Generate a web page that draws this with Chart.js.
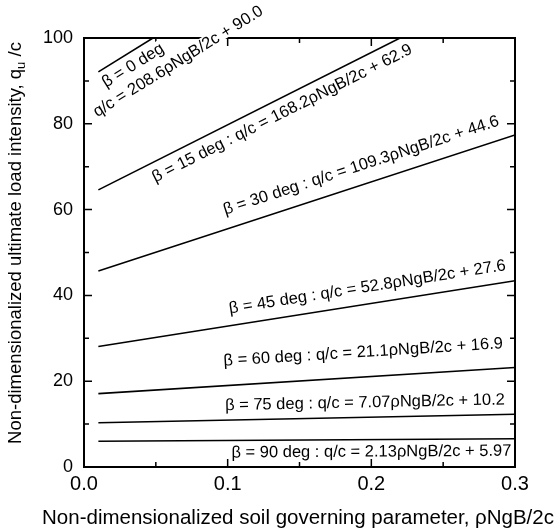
<!DOCTYPE html>
<html>
<head>
<meta charset="utf-8">
<script src="https://cdn.jsdelivr.net/npm/chart.js@4.4.0/dist/chart.umd.min.js"></script>
<style>
  html, body { margin: 0; padding: 0; background: #fff; }
  #wrap { width: 559px; height: 531px; }
</style>
</head>
<body>
<div id="wrap"><canvas id="bearing-chart" width="559" height="531"></canvas></div>
<script>
 /*-------------------
 Data
 -------------------*/
 const betaAngles = [0, 15, 30, 45, 60, 75, 90];
 const slopeText = ['208.6', '168.2', '109.3', '52.8', '21.1', '7.07', '2.13'];
 const interceptText = ['90.0', '62.9', '44.6', '27.6', '16.9', '10.2', '5.97'];
 const xStart = [0.01, 0.01, 0.01, 0.01, 0.01, 0.01, 0.01];
 const xEnd = [0.048, 0.22, 0.3, 0.3, 0.3, 0.3, 0.3];
 const qStart = [92.1, 64.6, 45.7, 28.1, 17.1, 10.3, 6.0];
 const qEnd = [100, 100, 77.4, 43.4, 23.2, 12.3, 6.6];
 const xTicks = [0.0, 0.1, 0.2, 0.3];
 const xMinorTicks = [0.05, 0.15, 0.25];
 const yTicks = [0, 20, 40, 60, 80, 100];
 const yMinorTicks = [10, 30, 50, 70, 90];

 const FONT = "'Liberation Sans', Arial, Helvetica, sans-serif";

 // where each label sits relative to the start of its line (px along / px across)
 const labelPlace = [
   [{ along: -2, perp: 17.5 }, { along: -25, perp: 38 }],
   [{ along: 54, perp: 19 }],
   [{ along: 138, perp: -14 }],
   [{ along: 135, perp: -12 }],
   [{ along: 127, perp: -20 }],
   [{ along: 127, perp: -10 }],
   [{ along: 133, perp: 17 }]
 ];

 function labelLines(i) {
   const eq = `q/c = ${slopeText[i]}\u03C1NgB/2c + ${interceptText[i]}`;
   if (i === 0) return [`\u03B2 = ${betaAngles[i]} deg`, eq];
   return [`\u03B2 = ${betaAngles[i]} deg : ${eq}`];
 }

 const datasets = betaAngles.map((b, i) => ({
   label: `beta ${b}`,
   data: [{ x: xStart[i], y: qStart[i] }, { x: xEnd[i], y: qEnd[i] }],
   showLine: true,
   borderColor: '#000',
   borderWidth: 1.6,
   pointRadius: 0,
   fill: false
 }));

 // --------- Frame, inward ticks, line labels, axis titles ---------
 const decorPlugin = {
   id: 'decor',
   afterDraw(chart) {
     const { ctx, chartArea: a, scales: { x, y } } = chart;
     ctx.save();
     ctx.strokeStyle = '#000';
     ctx.lineWidth = 2;
     ctx.strokeRect(a.left, a.top, a.right - a.left, a.bottom - a.top);

     ctx.lineWidth = 1.5;
     ctx.beginPath();
     const tickX = (vals, len) => vals.forEach(v => {
       const px = x.getPixelForValue(v);
       ctx.moveTo(px, a.bottom); ctx.lineTo(px, a.bottom - len);
       ctx.moveTo(px, a.top); ctx.lineTo(px, a.top + len);
     });
     const tickY = (vals, len) => vals.forEach(v => {
       const py = y.getPixelForValue(v);
       ctx.moveTo(a.left, py); ctx.lineTo(a.left + len, py);
       ctx.moveTo(a.right, py); ctx.lineTo(a.right - len, py);
     });
     tickX(xTicks, 8); tickX(xMinorTicks, 5);
     tickY(yTicks, 8); tickY(yMinorTicks, 5);
     ctx.stroke();

     // labels along the lines
     ctx.font = `16.5px ${FONT}`;
     ctx.textAlign = 'left';
     ctx.textBaseline = 'alphabetic';
     betaAngles.forEach((b, i) => {
       const x0 = x.getPixelForValue(xStart[i]), y0 = y.getPixelForValue(qStart[i]);
       const x1 = x.getPixelForValue(xEnd[i]), y1 = y.getPixelForValue(qEnd[i]);
       const ang = Math.atan2(y1 - y0, x1 - x0);
       const c = Math.cos(ang), s = Math.sin(ang);
       labelLines(i).forEach((txt, k) => {
         const p = labelPlace[i][k];
         const px = x0 + c * p.along - s * p.perp;
         const py = y0 + s * p.along + c * p.perp;
         ctx.save();
         ctx.translate(px, py);
         ctx.rotate(ang);
         const m = ctx.measureText(txt);
         ctx.fillStyle = '#fff';
         ctx.fillRect(-1, -m.actualBoundingBoxAscent - 1, m.width + 2, m.actualBoundingBoxAscent + 2);
         ctx.fillStyle = '#000';
         ctx.fillText(txt, 0, 0);
         ctx.restore();
       });
     });

     // x axis title (drawn here so it is not squeezed to the plot width)
     ctx.fillStyle = '#000';
     ctx.font = `20.5px ${FONT}`;
     ctx.textAlign = 'center';
     ctx.textBaseline = 'middle';
     ctx.fillText('Non-dimensionalized soil governing parameter, \u03C1NgB/2c', 298, 518);

     // y axis title with subscript u
     const main = 'Non-dimensionalized ultimate load intensity, q';
     const sub = 'u';
     const tail = ' /c';
     const bigFont = `18.5px ${FONT}`, smallFont = `13px ${FONT}`;
     ctx.textAlign = 'left';
     ctx.font = bigFont;
     const w1 = ctx.measureText(main).width, w3 = ctx.measureText(tail).width;
     ctx.font = smallFont;
     const w2 = ctx.measureText(sub).width;
     const total = w1 + w2 + w3;
     ctx.translate(16, 243);
     ctx.rotate(-Math.PI / 2);
     let cx = -total / 2;
     ctx.font = bigFont; ctx.fillText(main, cx, 0); cx += w1;
     ctx.font = smallFont; ctx.fillText(sub, cx, 5); cx += w2;
     ctx.font = bigFont; ctx.fillText(tail, cx, 0);
     ctx.restore();
   }
 };

 const bearingCanvas = document.getElementById('bearing-chart');

 let bearingChart = new Chart(bearingCanvas, {
   type: 'scatter',
   data: { datasets: datasets },
   options: {
     responsive: false,
     animation: false,
     layout: { padding: { left: 0, right: 44, top: 38, bottom: 0 } },
     plugins: {
       legend: { display: false },
       tooltip: { enabled: false }
     },
     scales: {
       x: {
         type: 'linear',
         min: 0,
         max: 0.3,
         afterBuildTicks: s => { s.ticks = xTicks.map(v => ({ value: v })); },
         afterFit: s => { s.height = 64; },
         grid: { display: false, drawTicks: false },
         border: { display: false },
         ticks: {
           color: '#000',
           padding: 5,
           font: { family: FONT, size: 20 },
           callback: v => v.toFixed(1)
         }
       },
       y: {
         type: 'linear',
         min: 0,
         max: 100,
         afterBuildTicks: s => { s.ticks = yTicks.map(v => ({ value: v })); },
         afterFit: s => { s.width = 84; },
         grid: { display: false, drawTicks: false },
         border: { display: false },
         ticks: {
           color: '#000',
           padding: 11,
           font: { family: FONT, size: 18 }
         }
       }
     }
   },
   plugins: [decorPlugin]
 });
</script>
</body>
</html>
